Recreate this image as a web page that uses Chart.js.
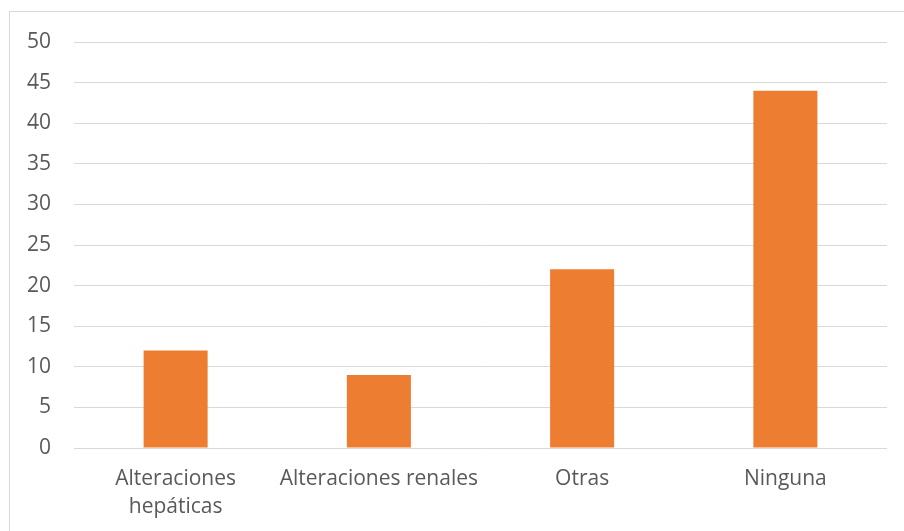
<!DOCTYPE html>
<html>
<head>
<meta charset="utf-8">
<script src="https://cdn.jsdelivr.net/npm/chart.js@4"></script>
<style>
  html, body { margin: 0; padding: 0; background: #fff; }
  #wrap { position: relative; width: 904px; height: 531px; overflow: hidden; }
  #frame { position: absolute; left: 9px; top: 11px; width: 920px; height: 540px; border: 1px solid #d9d9d9; box-sizing: border-box; }
  canvas { position: absolute; left: 0; top: 0; }
</style>
</head>
<body>
<div id="wrap">
  <div id="frame"></div>
  <canvas id="c" width="904" height="531"></canvas>
</div>
<script>
const categories = [["Alteraciones", "hepáticas"], "Alteraciones renales", "Otras", "Ninguna"];
const values = [12, 9, 22, 44];
const yMin = 0, yMax = 50, yStep = 5;

const textColor = '#595959';
const gridColor = '#d9d9d9';
const barColor = '#ED7D31';

new Chart(document.getElementById('c'), {
  type: 'bar',
  data: {
    labels: categories,
    datasets: [{
      data: values,
      backgroundColor: barColor,
      borderWidth: 0,
      categoryPercentage: 1,
      barPercentage: 0.315
    }]
  },
  options: {
    responsive: false,
    animation: false,
    devicePixelRatio: 1,
    layout: { padding: { left: 0, right: 17, top: 42, bottom: 0 } },
    plugins: { legend: { display: false }, tooltip: { enabled: false } },
    scales: {
      x: {
        grid: { display: false, drawTicks: false },
        border: { display: false },
        ticks: {
          color: textColor,
          font: { family: 'Open Sans', size: 21, lineHeight: 1.333 },
          padding: 17,
          maxRotation: 0,
          autoSkip: false
        },
        afterFit: (s) => { s.height = 83; }
      },
      y: {
        min: yMin, max: yMax,
        grid: { color: gridColor, lineWidth: 1, drawTicks: false },
        border: { display: false },
        ticks: {
          stepSize: yStep,
          color: textColor,
          font: { family: 'Open Sans', size: 21 },
          padding: 23
        },
        afterFit: (s) => { s.width = 74; }
      }
    }
  }
});
</script>
</body>
</html>
